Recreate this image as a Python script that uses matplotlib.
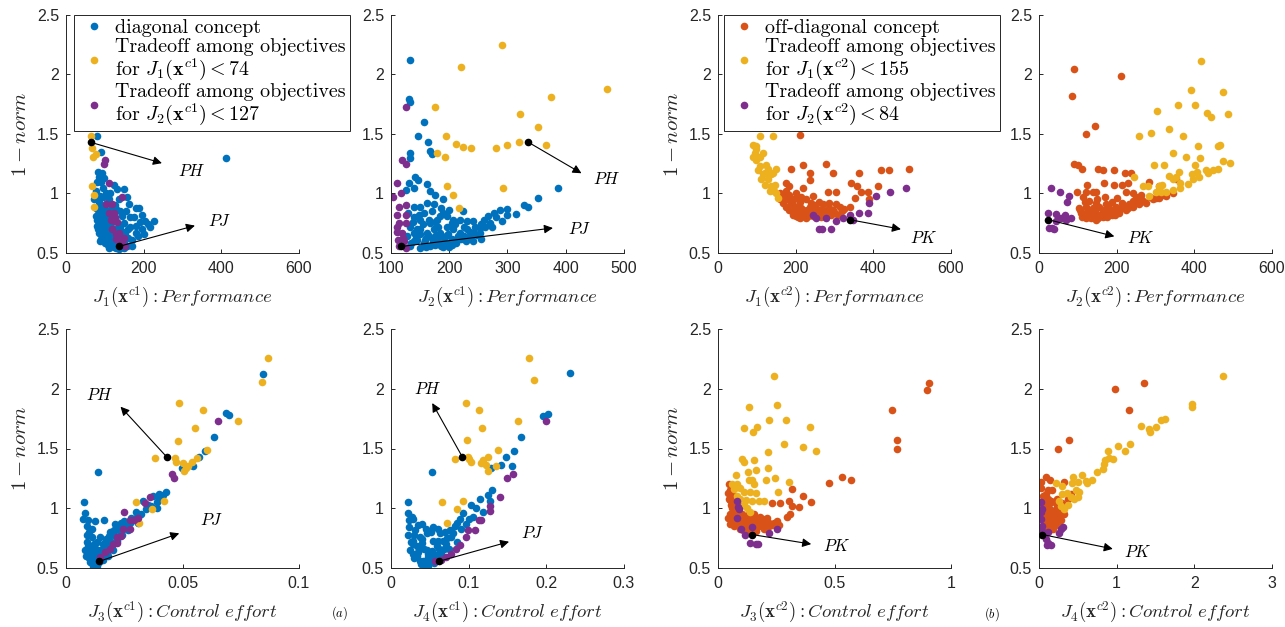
import numpy as np
import matplotlib.pyplot as plt
from matplotlib.lines import Line2D

plt.rcParams['mathtext.fontset'] = 'cm'
plt.rcParams['font.family'] = 'Liberation Sans'

BLUE = '#0072BD'
ORANGE = '#D95319'
YELLOW = '#EDB120'
PURPLE = '#7E2F8E'

# ---- diagonal concept x^c1 : (objective value, 1-norm) ----
c1_j1_all = [(413, 1.30), (79, 1.48), (89, 1.35), (85, 1.14), (81, 1.10), (89, 1.10), (77, 1.02),
             (102, 1.00), (85, 0.95), (72, 0.95), (94, 0.89), (77, 0.81), (85, 0.75), (94, 0.70),
             (102, 0.64), (115, 0.58), (128, 0.54), (136, 0.53), (157, 0.56), (170, 0.61), (179, 0.67),
             (196, 0.70), (204, 0.77), (226, 0.77), (217, 0.72), (187, 0.88), (179, 0.88), (162, 0.91),
             (157, 0.97), (136, 0.95), (149, 1.04), (132, 1.04), (123, 1.07), (94, 0.97), (85, 0.85),
             (85, 0.67), (98, 0.61), (111, 0.54), (85, 0.72), (153, 0.67), (170, 0.56), (145, 0.81),
             (166, 0.72), (80, 0.78), (82, 0.70), (90, 0.62), (100, 0.58), (108, 0.57), (120, 0.56),
             (140, 0.57), (150, 0.60), (160, 0.63), (92, 0.80), (100, 0.76), (108, 0.72), (115, 0.68),
             (122, 0.65), (130, 0.62), (90, 0.90), (97, 0.84), (105, 0.80), (112, 0.75), (118, 0.71),
             (126, 0.70), (134, 0.66), (140, 0.63), (78, 0.88), (120, 0.82), (110, 0.95), (130, 0.87),
             (150, 0.75), (160, 0.70), (185, 0.64), (190, 0.76), (175, 0.80), (195, 0.82),
             (88, 0.98), (95, 1.05), (83, 0.86), (87, 0.80), (93, 0.74), (97, 0.69), (103, 0.67),
             (107, 0.62), (113, 0.61), (118, 0.59), (125, 0.58), (132, 0.57), (145, 0.55), (150, 0.54),
             (124, 0.55), (96, 0.65), (91, 0.68), (88, 0.60), (79, 0.73), (86, 0.93), (100, 0.87),
             (106, 0.92), (118, 0.88), (127, 0.90), (140, 0.85), (155, 0.85), (165, 0.80), (180, 0.73),
             (200, 0.66), (210, 0.74), (140, 0.72), (146, 0.68), (106, 0.84), (113, 1.00), (98, 1.13),
             (92, 1.17), (83, 1.18)]
c1_j1_t1 = [(64, 1.48), (66, 1.38), (77, 1.33), (70, 1.31), (68, 1.06), (71, 0.99), (71, 0.89)]
c1_j1_t2 = [(100, 1.28), (98, 1.25), (111, 1.09), (145, 0.97), (104, 0.91), (119, 0.91), (123, 0.84),
            (111, 0.84), (123, 0.77), (132, 0.76), (119, 0.70), (136, 0.67), (149, 0.63), (143, 0.61),
            (153, 0.56), (128, 0.62), (140, 0.58), (130, 0.66), (115, 0.78), (126, 0.80)]

c1_j2_all = [(133, 2.12), (131, 1.79), (132, 1.77), (156, 1.60), (146, 1.48), (163, 1.43), (167, 1.36),
             (170, 1.33), (132, 1.34), (133, 1.30), (141, 1.14), (147, 1.11), (131, 1.09), (162, 1.08),
             (126, 1.03), (139, 1.05), (167, 1.02), (176, 0.99), (190, 0.95), (387, 1.05), (352, 0.96),
             (328, 0.90), (336, 0.89), (315, 0.83), (299, 0.87), (287, 0.86), (276, 0.84), (267, 0.81),
             (259, 0.78), (290, 0.77), (273, 0.72), (253, 0.71), (241, 0.77), (223, 0.85), (190, 0.84),
             (150, 0.89), (139, 0.89), (156, 0.84), (162, 0.92), (173, 0.91), (179, 0.78), (167, 0.75),
             (150, 0.78), (133, 0.72), (139, 0.67), (150, 0.70), (162, 0.67), (173, 0.70), (184, 0.67),
             (196, 0.72), (207, 0.70), (219, 0.67), (230, 0.70), (242, 0.67), (253, 0.67), (145, 0.61),
             (156, 0.58), (167, 0.56), (179, 0.58), (190, 0.61), (202, 0.58), (213, 0.61), (225, 0.64),
             (236, 0.64), (247, 0.65), (127, 0.64), (133, 0.56), (150, 0.54), (207, 0.78), (196, 0.81),
             (184, 0.81), (219, 0.78), (230, 0.77), (140, 0.60), (160, 0.63), (175, 0.62), (195, 0.64),
             (215, 0.64), (185, 0.56), (200, 0.55), (140, 0.80), (130, 0.84), (180, 0.72), (205, 0.75),
             (135, 0.58), (143, 0.63), (150, 0.66), (158, 0.61), (165, 0.64), (172, 0.60), (178, 0.65),
             (185, 0.62), (192, 0.58), (198, 0.66), (205, 0.62), (212, 0.58), (220, 0.62), (228, 0.60),
             (235, 0.68), (245, 0.72), (255, 0.74), (262, 0.72), (270, 0.75), (280, 0.80), (300, 0.82),
             (145, 0.70), (155, 0.74), (165, 0.78), (175, 0.76), (160, 0.55), (175, 0.57), (190, 0.55),
             (205, 0.57), (138, 0.76), (148, 0.82), (170, 0.85), (185, 0.88), (200, 0.86), (210, 0.74),
             (225, 0.72), (240, 0.60), (255, 0.62)]
c1_j2_t1 = [(291, 2.25), (220, 2.06), (470, 1.88), (374, 1.81), (176, 1.73), (322, 1.67), (353, 1.56),
            (194, 1.48), (211, 1.42), (223, 1.39), (238, 1.38), (281, 1.38), (300, 1.41), (320, 1.43),
            (366, 1.41), (179, 1.34), (192, 1.31), (196, 1.06), (292, 1.05), (206, 0.99), (216, 0.88)]
c1_j2_t2 = [(126, 1.73), (119, 1.28), (126, 1.25), (110, 1.09), (118, 1.00), (103, 0.97), (113, 0.89),
            (126, 0.90), (110, 0.82), (125, 0.82), (113, 0.75), (126, 0.75), (110, 0.68), (119, 0.67),
            (112, 0.61), (122, 0.60), (126, 0.54), (113, 0.56), (120, 0.63), (111, 0.72)]

c1_j3_all = [(0.0844, 2.12), (0.0687, 1.80), (0.0698, 1.78), (0.0637, 1.60), (0.0595, 1.48),
             (0.0571, 1.43), (0.0545, 1.35), (0.0499, 1.34), (0.0136, 1.30), (0.0429, 1.14),
             (0.0418, 1.11), (0.0398, 1.08), (0.0390, 1.05), (0.0366, 1.02), (0.0344, 0.99),
             (0.0323, 0.95), (0.0302, 0.92), (0.0273, 0.88), (0.0252, 0.85), (0.0231, 0.81),
             (0.0210, 0.77), (0.0188, 0.73), (0.0167, 0.69), (0.0146, 0.65), (0.0132, 0.60),
             (0.0118, 0.56), (0.0103, 0.55), (0.0078, 1.05), (0.0082, 0.96), (0.0075, 0.91),
             (0.0096, 0.90), (0.0125, 0.89), (0.0163, 0.90), (0.0110, 0.83), (0.0092, 0.78),
             (0.0110, 0.76), (0.0089, 0.72), (0.0082, 0.65), (0.0103, 0.62), (0.0132, 0.72),
             (0.0210, 0.87), (0.0217, 0.84), (0.0188, 0.80), (0.0146, 0.76), (0.0125, 0.67),
             (0.0153, 0.58), (0.0174, 0.62), (0.0203, 0.65), (0.0330, 1.06), (0.0372, 1.10),
             (0.0280, 0.92), (0.0238, 0.88), (0.0125, 0.52), (0.0095, 0.68), (0.0112, 0.60),
             (0.0140, 0.55), (0.0160, 0.66), (0.0180, 0.70), (0.0240, 0.78), (0.0265, 0.82),
             (0.0100, 0.58), (0.0112, 0.64), (0.0120, 0.70), (0.0128, 0.63), (0.0135, 0.58),
             (0.0150, 0.62), (0.0158, 0.70), (0.0170, 0.74), (0.0185, 0.77), (0.0195, 0.80),
             (0.0205, 0.82), (0.0228, 0.86), (0.0250, 0.89), (0.0090, 0.85), (0.0100, 0.80),
             (0.0087, 0.60), (0.0115, 0.52), (0.0135, 0.52), (0.0160, 0.57), (0.0180, 0.60),
             (0.0200, 0.70), (0.0220, 0.73), (0.0300, 0.97), (0.0350, 1.03), (0.0400, 1.12),
             (0.0390, 1.00), (0.0310, 0.88)]
c1_j3_t1 = [(0.0868, 2.26), (0.0840, 2.06), (0.0483, 1.88), (0.0586, 1.82), (0.0738, 1.73),
            (0.0554, 1.67), (0.0480, 1.56), (0.0606, 1.49), (0.0381, 1.42), (0.0469, 1.42),
            (0.0472, 1.39), (0.0504, 1.38), (0.0514, 1.34), (0.0540, 1.39), (0.0562, 1.42),
            (0.0508, 1.31), (0.0524, 1.35), (0.0302, 1.05), (0.0421, 1.06), (0.0370, 0.99),
            (0.0313, 0.88)]
c1_j3_t2 = [(0.0654, 1.73), (0.0455, 1.29), (0.0462, 1.25), (0.0360, 1.09), (0.0340, 1.04),
            (0.0248, 0.97), (0.0276, 0.90), (0.0290, 0.90), (0.0311, 0.92), (0.0245, 0.83),
            (0.0273, 0.83), (0.0220, 0.76), (0.0238, 0.77), (0.0203, 0.70), (0.0188, 0.66),
            (0.0167, 0.63), (0.0146, 0.59), (0.0217, 0.71)]

c1_j4_all = [(0.231, 2.13), (0.1955, 1.77), (0.202, 1.79), (0.168, 1.60), (0.158, 1.48), (0.148, 1.43),
             (0.156, 1.35), (0.141, 1.36), (0.129, 1.34), (0.0527, 1.30), (0.130, 1.15), (0.125, 1.11),
             (0.114, 1.08), (0.128, 1.06), (0.103, 1.03), (0.0926, 0.96), (0.0884, 0.91), (0.101, 0.91),
             (0.082, 0.85), (0.0765, 0.82), (0.0629, 0.79), (0.0544, 0.73), (0.0374, 0.76), (0.0225, 1.05),
             (0.0217, 0.96), (0.0238, 0.90), (0.0289, 0.91), (0.0404, 0.87), (0.045, 0.83), (0.0225, 0.78),
             (0.0289, 0.73), (0.0247, 0.65), (0.0331, 0.62), (0.0416, 0.56), (0.050, 0.55), (0.0565, 0.57),
             (0.0459, 0.65), (0.0374, 0.68), (0.0586, 0.68), (0.0714, 0.70), (0.065, 0.62), (0.0778, 0.76),
             (0.0969, 0.87), (0.105, 0.93), (0.110, 1.00), (0.118, 0.97), (0.031, 0.82), (0.0544, 0.84),
             (0.048, 0.62), (0.037, 0.56), (0.028, 0.70), (0.040, 0.71), (0.052, 0.60), (0.060, 0.73),
             (0.068, 0.66), (0.034, 0.60), (0.044, 0.52), (0.030, 0.78), (0.070, 0.80), (0.085, 0.72),
             (0.030, 0.58), (0.035, 0.63), (0.042, 0.66), (0.047, 0.59), (0.053, 0.64), (0.058, 0.61),
             (0.062, 0.66), (0.067, 0.73), (0.072, 0.75), (0.075, 0.66), (0.080, 0.79), (0.026, 0.72),
             (0.028, 0.62), (0.033, 0.68), (0.040, 0.74), (0.046, 0.79), (0.052, 0.80), (0.039, 0.53),
             (0.048, 0.52), (0.055, 0.54), (0.023, 0.84), (0.035, 0.86), (0.060, 0.83), (0.085, 0.88),
             (0.090, 0.83), (0.027, 0.93)]
c1_j4_t1 = [(0.1776, 2.26), (0.184, 2.07), (0.0960, 1.88), (0.113, 1.82), (0.163, 1.73), (0.117, 1.67),
            (0.0977, 1.57), (0.138, 1.49), (0.0820, 1.41), (0.099, 1.43), (0.101, 1.41), (0.103, 1.39),
            (0.116, 1.38), (0.119, 1.40), (0.125, 1.43), (0.122, 1.36), (0.135, 1.35), (0.125, 1.31),
            (0.0654, 1.05), (0.0926, 1.06), (0.085, 0.99), (0.0722, 0.88)]
c1_j4_t2 = [(0.200, 1.73), (0.157, 1.29), (0.149, 1.25), (0.140, 1.09), (0.127, 1.02), (0.127, 0.98),
            (0.116, 0.90), (0.113, 0.90), (0.108, 0.82), (0.099, 0.82), (0.097, 0.76), (0.0884, 0.69),
            (0.0841, 0.66), (0.0778, 0.62), (0.0714, 0.59), (0.0565, 0.56), (0.0650, 0.57)]

# selected designs PH, PJ of the diagonal concept: J1..J4 and 1-norm
c1_PH_J = [64, 336, 0.0432, 0.0918]
c1_PH_norm = 1.43
c1_PJ_J = [136, 118, 0.0143, 0.0612]
c1_PJ_norm = 0.555

# ---- off-diagonal concept x^c2 ----
c2_j1_all = [(210, 1.49), (219, 1.24), (279, 1.25), (236, 1.17), (189, 1.21), (296, 1.17), (364, 1.17),
             (420, 1.20), (441, 1.20), (491, 1.21), (236, 1.11), (176, 1.09), (184, 1.06), (201, 1.00),
             (219, 1.05), (244, 0.98), (283, 1.01), (343, 1.09), (357, 1.06), (304, 1.01), (369, 1.01),
             (387, 1.01), (412, 1.06), (353, 0.96), (390, 0.95), (341, 0.89), (159, 0.95), (167, 0.92),
             (176, 0.89), (184, 0.86), (193, 0.84), (201, 0.81), (210, 0.79), (227, 0.79), (244, 0.81),
             (261, 0.84), (279, 0.85), (296, 0.86), (313, 0.89), (201, 0.89), (219, 0.86), (236, 0.89),
             (253, 0.88), (270, 0.91), (287, 0.92), (304, 0.91), (184, 0.95), (227, 0.95), (261, 0.93),
             (210, 0.93), (244, 0.87), (227, 0.84), (201, 0.85), (279, 0.81), (291, 0.82), (167, 0.98),
             (176, 1.02), (218, 0.82), (235, 0.82), (252, 0.85), (268, 0.87), (285, 0.88), (193, 0.90),
             (160, 1.00), (205, 0.96), (320, 0.85),
             (170, 0.94), (178, 0.96), (187, 0.92), (195, 0.88), (203, 0.86), (212, 0.83), (220, 0.81),
             (232, 0.81), (240, 0.83), (248, 0.84), (257, 0.82), (265, 0.86), (273, 0.83), (282, 0.87),
             (300, 0.84), (310, 0.82), (325, 0.87), (193, 0.82), (206, 0.80), (215, 0.88), (230, 0.86),
             (250, 0.90), (265, 0.80), (183, 0.99), (196, 0.95), (215, 0.97), (240, 0.92)]
c2_j1_t1 = [(109, 1.48), (141, 1.48), (90, 1.41), (99, 1.37), (116, 1.34), (99, 1.28), (107, 1.23),
            (120, 1.17), (129, 1.12), (137, 1.06), (150, 1.00), (141, 1.17), (150, 1.21), (124, 1.24),
            (107, 1.31), (94, 1.34), (111, 1.12), (120, 1.07), (133, 1.02), (154, 0.96), (103, 1.20),
            (116, 1.16), (137, 1.16), (129, 1.21), (146, 1.07), (99, 1.40), (90, 1.31), (145, 1.02)]
c2_j1_t2 = [(244, 0.82), (253, 0.79), (279, 0.79), (304, 0.77), (321, 0.79), (261, 0.70), (268, 0.70),
            (291, 0.70), (339, 0.82), (364, 0.84), (386, 0.84), (388, 0.92), (407, 0.98), (443, 1.01),
            (484, 1.05), (347, 0.78)]

c2_j2_all = [(91, 2.05), (212, 1.99), (86, 1.82), (145, 1.57), (121, 1.50), (90, 1.25), (101, 1.24),
             (112, 1.21), (153, 1.21), (164, 1.20), (192, 1.20), (221, 1.17), (237, 1.17), (168, 1.09),
             (192, 1.07), (213, 1.07), (230, 1.09), (284, 1.10), (97, 1.01), (123, 1.07), (121, 1.01),
             (138, 1.01), (146, 1.01), (114, 0.97), (129, 0.94), (146, 0.92), (241, 1.00), (224, 1.01),
             (250, 0.97), (263, 0.95), (103, 0.88), (108, 0.84), (121, 0.84), (138, 0.82), (155, 0.81),
             (172, 0.81), (189, 0.82), (207, 0.84), (224, 0.86), (241, 0.89), (258, 0.91), (275, 0.92),
             (293, 0.95), (310, 0.96), (327, 0.98), (121, 0.89), (138, 0.88), (164, 0.86), (181, 0.88),
             (198, 0.89), (215, 0.92), (232, 0.91), (155, 0.89), (172, 0.91), (189, 0.93), (112, 0.80),
             (129, 0.80), (146, 0.78), (164, 0.80), (207, 0.86), (241, 0.94), (263, 0.99), (344, 1.00),
             (353, 1.12), (310, 1.06),
             (105, 0.86), (115, 0.82), (125, 0.86), (132, 0.83), (142, 0.85), (150, 0.83), (160, 0.82),
             (168, 0.84), (178, 0.84), (185, 0.86), (195, 0.85), (203, 0.87), (212, 0.88), (220, 0.89),
             (230, 0.88), (248, 0.92), (268, 0.94), (285, 0.97), (300, 0.96), (318, 0.99), (120, 0.79),
             (135, 0.79), (152, 0.79), (175, 0.80), (195, 0.82), (150, 0.95), (170, 0.97), (200, 0.96),
             (118, 0.93)]
c2_j2_t1 = [(418, 2.11), (391, 1.87), (474, 1.85), (358, 1.74), (401, 1.74), (304, 1.69), (432, 1.68),
            (486, 1.67), (443, 1.64), (336, 1.54), (257, 1.48), (288, 1.51), (370, 1.48), (409, 1.40),
            (460, 1.40), (465, 1.41), (346, 1.34), (379, 1.31), (415, 1.30), (295, 1.24), (322, 1.24),
            (360, 1.18), (402, 1.24), (473, 1.27), (491, 1.26), (244, 1.14), (334, 1.15), (353, 1.14),
            (393, 1.16), (408, 1.18), (430, 1.20), (448, 1.20), (461, 1.21), (396, 1.12), (413, 1.14),
            (435, 1.17), (267, 1.06), (280, 1.06), (310, 1.06), (313, 1.01), (327, 1.01), (344, 1.03),
            (362, 1.05), (383, 1.08), (284, 0.98), (301, 1.01), (344, 1.12), (362, 1.09), (318, 1.07)]
c2_j2_t2 = [(30, 1.05), (53, 1.01), (77, 0.98), (71, 0.93), (22, 0.84), (45, 0.83), (66, 0.82), (82, 0.79),
            (69, 0.78), (43, 0.77), (33, 0.71), (39, 0.70), (26, 0.71), (56, 0.79)]

c2_j3_all = [(0.907, 2.05), (0.895, 1.99), (0.745, 1.82), (0.770, 1.57), (0.769, 1.50), (0.534, 1.26),
             (0.570, 1.24), (0.478, 1.21), (0.316, 1.16), (0.364, 1.10), (0.400, 1.05), (0.268, 1.04),
             (0.306, 1.06), (0.318, 1.02), (0.346, 1.01), (0.297, 0.93), (0.311, 0.95), (0.232, 1.04),
             (0.211, 0.92), (0.046, 1.20), (0.042, 1.13), (0.053, 1.07), (0.060, 1.00), (0.053, 0.95),
             (0.067, 0.90), (0.082, 0.87), (0.096, 0.83), (0.110, 0.81), (0.125, 0.85), (0.146, 0.88),
             (0.168, 0.90), (0.189, 0.89), (0.211, 0.86), (0.232, 0.86), (0.254, 0.89), (0.082, 0.97),
             (0.103, 0.95), (0.125, 0.92), (0.154, 0.95), (0.182, 0.93), (0.075, 1.03), (0.096, 1.02),
             (0.067, 1.10), (0.050, 1.15), (0.132, 0.80), (0.161, 0.81), (0.197, 0.83), (0.103, 0.89),
             (0.082, 0.92), (0.175, 0.85), (0.067, 0.85), (0.060, 0.94), (0.140, 0.90), (0.220, 0.88),
             (0.055, 1.03), (0.065, 0.97), (0.072, 0.94), (0.078, 0.90), (0.090, 0.86), (0.100, 0.86),
             (0.112, 0.84), (0.120, 0.88), (0.135, 0.86), (0.150, 0.84), (0.160, 0.86), (0.170, 0.88),
             (0.185, 0.86), (0.200, 0.88), (0.215, 0.84), (0.240, 0.88), (0.260, 0.86), (0.048, 1.08),
             (0.058, 1.12), (0.070, 1.04), (0.090, 0.92), (0.110, 0.90), (0.130, 0.94), (0.165, 0.92),
             (0.195, 0.91), (0.045, 0.92), (0.050, 0.87)]
c2_j3_t1 = [(0.240, 2.11), (0.133, 1.85), (0.252, 1.86), (0.218, 1.74), (0.293, 1.74), (0.112, 1.67),
            (0.166, 1.68), (0.151, 1.64), (0.393, 1.68), (0.283, 1.54), (0.364, 1.51), (0.422, 1.48),
            (0.214, 1.47), (0.103, 1.41), (0.110, 1.39), (0.155, 1.40), (0.214, 1.34), (0.128, 1.30),
            (0.165, 1.32), (0.077, 1.28), (0.132, 1.24), (0.146, 1.24), (0.204, 1.24), (0.244, 1.25),
            (0.303, 1.22), (0.257, 1.14), (0.060, 1.20), (0.082, 1.20), (0.096, 1.17), (0.113, 1.14),
            (0.139, 1.14), (0.161, 1.13), (0.154, 1.20), (0.096, 1.08), (0.122, 1.07), (0.146, 1.06),
            (0.175, 1.06), (0.197, 1.06), (0.110, 1.03), (0.125, 1.00), (0.139, 0.97), (0.082, 1.10),
            (0.067, 1.16)]
c2_j3_t2 = [(0.082, 1.06), (0.085, 1.01), (0.089, 0.99), (0.082, 0.92), (0.100, 0.83), (0.148, 0.84),
            (0.115, 0.78), (0.218, 0.79), (0.254, 0.83), (0.139, 0.71), (0.161, 0.70), (0.171, 0.70)]

c2_j4_all = [(1.347, 2.05), (0.980, 2.00), (1.165, 1.82), (0.388, 1.57), (0.242, 1.50), (0.030, 1.22),
             (0.086, 1.26), (0.138, 1.24), (0.022, 1.17), (0.324, 1.22), (0.056, 1.10), (0.117, 1.08),
             (0.086, 1.04), (0.030, 1.05), (0.173, 1.15), (0.065, 0.98), (0.108, 1.02), (0.151, 1.05),
             (0.194, 0.98), (0.237, 1.01), (0.281, 0.98), (0.324, 0.95), (0.130, 0.92), (0.194, 0.92),
             (0.259, 0.92), (0.065, 0.92), (0.108, 0.87), (0.173, 0.87), (0.237, 0.89), (0.281, 0.90),
             (0.151, 0.83), (0.086, 0.88), (0.043, 0.95), (0.216, 0.95), (0.302, 1.04), (0.367, 1.08),
             (0.410, 1.12), (0.151, 1.06), (0.237, 1.08), (0.120, 0.96), (0.200, 0.86), (0.095, 0.83),
             (0.045, 1.00), (0.055, 0.96), (0.075, 0.95), (0.100, 0.97), (0.140, 0.99), (0.165, 0.95),
             (0.185, 0.90), (0.205, 0.94), (0.225, 0.91), (0.250, 0.95), (0.270, 0.94), (0.295, 0.96),
             (0.120, 0.89), (0.140, 0.86), (0.160, 0.84), (0.180, 0.83), (0.210, 0.86), (0.250, 0.87),
             (0.100, 0.92), (0.080, 0.85), (0.130, 0.82), (0.060, 1.06), (0.090, 1.12), (0.120, 1.15),
             (0.200, 1.05)]
c2_j4_t1 = [(2.373, 2.11), (1.964, 1.87), (1.964, 1.85), (1.618, 1.75), (1.567, 1.74), (1.502, 1.68),
            (1.411, 1.66), (1.424, 1.64), (1.317, 1.69), (1.178, 1.54), (1.023, 1.52), (1.101, 1.48),
            (0.885, 1.48), (0.950, 1.41), (0.855, 1.40), (0.906, 1.42), (0.842, 1.37), (0.820, 1.33),
            (0.742, 1.30), (0.686, 1.24), (0.604, 1.23), (0.552, 1.28), (0.440, 1.26), (0.427, 1.21),
            (0.496, 1.22), (0.216, 1.21), (0.302, 1.19), (0.358, 1.13), (0.410, 1.09), (0.475, 1.15),
            (0.518, 1.14), (0.453, 1.08), (0.259, 1.06), (0.281, 1.02), (0.324, 0.99), (0.367, 1.03),
            (0.496, 1.09), (0.617, 1.21), (0.302, 1.12)]
c2_j4_t2 = [(0.022, 1.05), (0.035, 0.99), (0.022, 0.97), (0.030, 0.91), (0.043, 0.85), (0.043, 0.81),
            (0.117, 0.80), (0.259, 0.79), (0.281, 0.83), (0.311, 0.84), (0.086, 0.74), (0.117, 0.71),
            (0.160, 0.69), (0.099, 0.69)]

# selected design PK of the off-diagonal concept
c2_PK_J = [339, 24, 0.146, 0.043]
c2_PK_norm = 0.78

W, H = 1285, 627
fig = plt.figure(figsize=(W / 100, H / 100), dpi=100)

lefts = [66, 391, 718, 1039]
rows = [(15, 253), (329, 568)]


def make_ax(col, row):
    top, bot = rows[row]
    l = lefts[col]
    ax = fig.add_axes([l / W, 1 - bot / H, 233 / W, (bot - top) / H])
    for s in ['top', 'right']:
        ax.spines[s].set_visible(False)
    for s in ['left', 'bottom']:
        ax.spines[s].set_color('#262626')
        ax.spines[s].set_linewidth(0.7)
    ax.tick_params(direction='in', length=3, width=0.7, color='#262626',
                   labelcolor='#262626', labelsize=11.5)
    ax.tick_params(axis='x', pad=6)
    ax.tick_params(axis='y', pad=5)
    ax.set_ylim(0.5, 2.5)
    ax.set_yticks([0.5, 1, 1.5, 2, 2.5])
    ax.set_yticklabels(['0.5', '1', '1.5', '2', '2.5'])
    return ax


def scatter(ax, pts, color):
    a = np.array(pts).T
    ax.scatter(a[0], a[1], s=30, color=color, linewidths=0, zorder=2)


def mark(ax, x, y, end, label, pos):
    ax.scatter([x], [y], s=30, color='k', linewidths=0, zorder=4)
    ax.annotate('', xy=end, xytext=(x, y), zorder=5, annotation_clip=False,
                arrowprops=dict(arrowstyle='-|>', color='k', lw=0.8,
                                mutation_scale=13, shrinkA=0, shrinkB=0))
    ax.text(pos[0], pos[1], label, fontsize=12, ha='center', va='center')


panels = [
    # col, row, base series, t1, t2, base colour, xlim, xticks, xlabel
    (0, 0, c1_j1_all, c1_j1_t1, c1_j1_t2, BLUE, (0, 600), [0, 200, 400, 600],
     r'$J_1(\mathbf{x}^{c1}) : Performance$'),
    (1, 0, c1_j2_all, c1_j2_t1, c1_j2_t2, BLUE, (100, 500), [100, 200, 300, 400, 500],
     r'$J_2(\mathbf{x}^{c1}) : Performance$'),
    (0, 1, c1_j3_all, c1_j3_t1, c1_j3_t2, BLUE, (0, 0.1), [0, 0.05, 0.1],
     r'$J_3(\mathbf{x}^{c1}) : Control\ effort$'),
    (1, 1, c1_j4_all, c1_j4_t1, c1_j4_t2, BLUE, (0, 0.3), [0, 0.1, 0.2, 0.3],
     r'$J_4(\mathbf{x}^{c1}) : Control\ effort$'),
    (2, 0, c2_j1_all, c2_j1_t1, c2_j1_t2, ORANGE, (0, 600), [0, 200, 400, 600],
     r'$J_1(\mathbf{x}^{c2}) : Performance$'),
    (3, 0, c2_j2_all, c2_j2_t1, c2_j2_t2, ORANGE, (0, 600), [0, 200, 400, 600],
     r'$J_2(\mathbf{x}^{c2}) : Performance$'),
    (2, 1, c2_j3_all, c2_j3_t1, c2_j3_t2, ORANGE, (0, 1), [0, 0.5, 1],
     r'$J_3(\mathbf{x}^{c2}) : Control\ effort$'),
    (3, 1, c2_j4_all, c2_j4_t1, c2_j4_t2, ORANGE, (0, 3), [0, 1, 2, 3],
     r'$J_4(\mathbf{x}^{c2}) : Control\ effort$'),
]

# arrow end and label position for each selected design, per objective J1..J4
ph_arrows = [((247, 1.255), (323, 1.19)), ((427, 1.17), (470, 1.12)),
             ((0.0234, 1.85), (0.0146, 1.95)), ((0.0531, 1.88), (0.0468, 2.00))]
pj_arrows = [((332, 0.73), (396, 0.77)), ((378, 0.71), (424, 0.70)),
             ((0.0486, 0.79), (0.0627, 0.90)), ((0.152, 0.72), (0.182, 0.79))]
pk_arrows = [((471, 0.70), (531, 0.63)), ((194, 0.64), (263, 0.63)),
             ((0.400, 0.70), (0.509, 0.68)), ((0.950, 0.66), (1.273, 0.63))]

axes = []
for k, (col, row, base, t1, t2, bc, xlim, xt, xl) in enumerate(panels):
    ax = make_ax(col, row)
    scatter(ax, base, bc)
    scatter(ax, t1, YELLOW)
    scatter(ax, t2, PURPLE)
    ax.set_xlim(*xlim)
    ax.set_xticks(xt)
    ax.set_xticklabels([('%g' % v) for v in xt])
    ax.set_xlabel(xl, fontsize=13.5, color='#262626', labelpad=6)
    if col in (0, 2):
        ax.set_ylabel(r'$1-norm$', fontsize=15, color='#262626', labelpad=5)
    j = k % 4
    if k < 4:
        (e, p) = ph_arrows[j]
        mark(ax, c1_PH_J[j], c1_PH_norm, e, r'$PH$', p)
        (e, p) = pj_arrows[j]
        mark(ax, c1_PJ_J[j], c1_PJ_norm, e, r'$PJ$', p)
    else:
        (e, p) = pk_arrows[j]
        mark(ax, c2_PK_J[j], c2_PK_norm, e, r'$PK$', p)
    axes.append(ax)


def legend(ax, x0, labels, base_color):
    handles = [Line2D([], [], ls='', marker='o', markersize=5.5, markeredgewidth=0, color=c)
               for c in (base_color, YELLOW, PURPLE)]
    lg = ax.legend(handles, labels, loc='upper left',
                   bbox_to_anchor=(x0 / W, 1 - 15 / H), bbox_transform=fig.transFigure,
                   borderaxespad=0, fancybox=False, framealpha=1, edgecolor='#262626',
                   prop={'family': 'cmr10', 'size': 14.4}, handlelength=1.6,
                   handletextpad=0.25, labelspacing=0.05, borderpad=0.22)
    for t in lg.get_texts():
        t.set_linespacing(1.0)
    lg.get_frame().set_linewidth(0.7)
    lg.set_zorder(10)


legend(axes[0], 74, ['diagonal concept',
                     'Tradeoff among objectives\nfor $J_1(\\mathbf{x}^{c1}) < 74$',
                     'Tradeoff among objectives\nfor $J_2(\\mathbf{x}^{c1}) < 127$'], BLUE)
legend(axes[4], 724, ['off-diagonal concept',
                      'Tradeoff among objectives\nfor $J_1(\\mathbf{x}^{c2}) < 155$',
                      'Tradeoff among objectives\nfor $J_2(\\mathbf{x}^{c2}) < 84$'], ORANGE)

fig.text(340 / W, 1 - 613 / H, r'$(a)$', fontsize=9, ha='center', va='center')
fig.text(992 / W, 1 - 614 / H, r'$(b)$', fontsize=9, ha='center', va='center')

fig.savefig('out.png', dpi=100)
